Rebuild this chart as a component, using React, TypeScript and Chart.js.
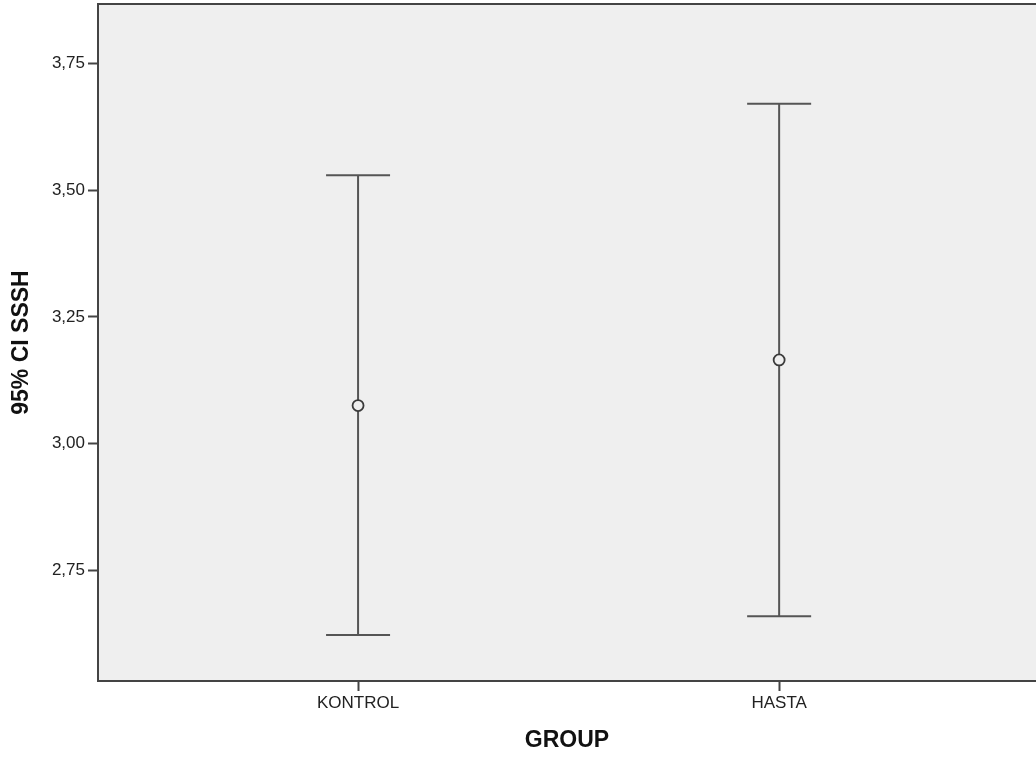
import React, { useEffect, useRef } from "react";
import { Chart, registerables } from "chart.js";

Chart.register(...registerables);

const groups = ["KONTROL", "HASTA"];
const groupPositions = [1, 2];
const means = [3.075, 3.165];
const lowerCI = [2.622, 2.659];
const upperCI = [3.53, 3.671];
const yTickValues = [2.75, 3.0, 3.25, 3.5, 3.75];

const FRAME = "#444444";
const LINE = "#555555";
const BG = "#efefef";
const FONT = "'Liberation Sans', Arial, sans-serif";

const errorBarPlugin = {
  id: "errorBars",
  beforeDraw(chart: any) {
    const { ctx, chartArea } = chart;
    ctx.save();
    ctx.fillStyle = BG;
    ctx.fillRect(chartArea.left, chartArea.top, chartArea.right - chartArea.left, chartArea.bottom - chartArea.top);
    ctx.restore();
  },
  afterDatasetsDraw(chart: any) {
    const { ctx, scales, chartArea } = chart;
    const xs = scales.x;
    const ys = scales.y;
    ctx.save();
    groupPositions.forEach((g, i) => {
      const px = xs.getPixelForValue(g);
      const yl = ys.getPixelForValue(lowerCI[i]);
      const yu = ys.getPixelForValue(upperCI[i]);
      const ym = ys.getPixelForValue(means[i]);
      ctx.strokeStyle = LINE;
      ctx.lineWidth = 2;
      ctx.beginPath();
      ctx.moveTo(px, yu);
      ctx.lineTo(px, yl);
      ctx.moveTo(px - 32, yu);
      ctx.lineTo(px + 32, yu);
      ctx.moveTo(px - 32, yl);
      ctx.lineTo(px + 32, yl);
      ctx.stroke();
      ctx.beginPath();
      ctx.arc(px, ym, 5.5, 0, Math.PI * 2);
      ctx.fillStyle = BG;
      ctx.fill();
      ctx.lineWidth = 1.8;
      ctx.strokeStyle = "#3a3a3a";
      ctx.stroke();
    });
    ctx.strokeStyle = FRAME;
    ctx.lineWidth = 2;
    ctx.beginPath();
    ctx.moveTo(chartArea.left - 1, chartArea.top);
    ctx.lineTo(chartArea.right, chartArea.top);
    ctx.stroke();
    ctx.restore();
  },
};

export default function App() {
  const ref = useRef<HTMLCanvasElement>(null);
  useEffect(() => {
    document.body.style.margin = "0";
    const canvas = ref.current!;
    const chart = new Chart(canvas, {
      type: "scatter",
      data: {
        datasets: [
          {
            data: groupPositions.map((g, i) => ({ x: g, y: means[i] })),
            pointRadius: 0,
            showLine: false,
          },
        ],
      },
      options: {
        animation: false,
        responsive: false,
        layout: { padding: { top: 4, right: 0, left: 0, bottom: 0 } },
        plugins: { legend: { display: false }, tooltip: { enabled: false } },
        scales: {
          x: {
            type: "linear",
            min: 0.3824,
            max: 2.61,
            afterBuildTicks: (s: any) => {
              s.ticks = groupPositions.map((v) => ({ value: v }));
            },
            afterFit: (s: any) => {
              s.height = 77;
              s.paddingLeft = 0;
              s.paddingRight = 0;
            },
            ticks: {
              autoSkip: false,
              maxRotation: 0,
              padding: 2,
              color: "#222",
              font: { family: FONT, size: 17 },
              callback: (v: any) => {
                const idx = groupPositions.indexOf(Number(v));
                return idx >= 0 ? groups[idx] : "";
              },
            },
            grid: { drawOnChartArea: false, drawTicks: true, tickLength: 10, tickColor: FRAME, tickWidth: 2 },
            border: { display: true, color: FRAME, width: 2 },
            title: {
              display: true,
              text: "GROUP",
              color: "#111",
              font: { family: FONT, size: 23, weight: "bold" },
              padding: { top: 0, bottom: 4 },
            },
          },
          y: {
            type: "linear",
            min: 2.531,
            max: 3.868,
            afterBuildTicks: (s: any) => {
              s.ticks = yTickValues.map((v) => ({ value: v }));
            },
            afterFit: (s: any) => {
              s.width = 98;
              s.paddingTop = 0;
              s.paddingBottom = 0;
            },
            ticks: {
              padding: 3,
              color: "#222",
              font: { family: FONT, size: 17 },
              callback: (v: any) => Number(v).toFixed(2).replace(".", ","),
            },
            grid: { drawOnChartArea: false, drawTicks: true, tickLength: 10, tickColor: FRAME, tickWidth: 2 },
            border: { display: true, color: FRAME, width: 2 },
            title: {
              display: true,
              text: "95% CI SSSH",
              color: "#111",
              font: { family: FONT, size: 23, weight: "bold" },
              padding: { top: 8, bottom: 0 },
            },
          },
        },
      },
      plugins: [errorBarPlugin],
    });
    return () => chart.destroy();
  }, []);
  return <canvas ref={ref} width={1036} height={758} style={{ display: "block" }} />;
}
